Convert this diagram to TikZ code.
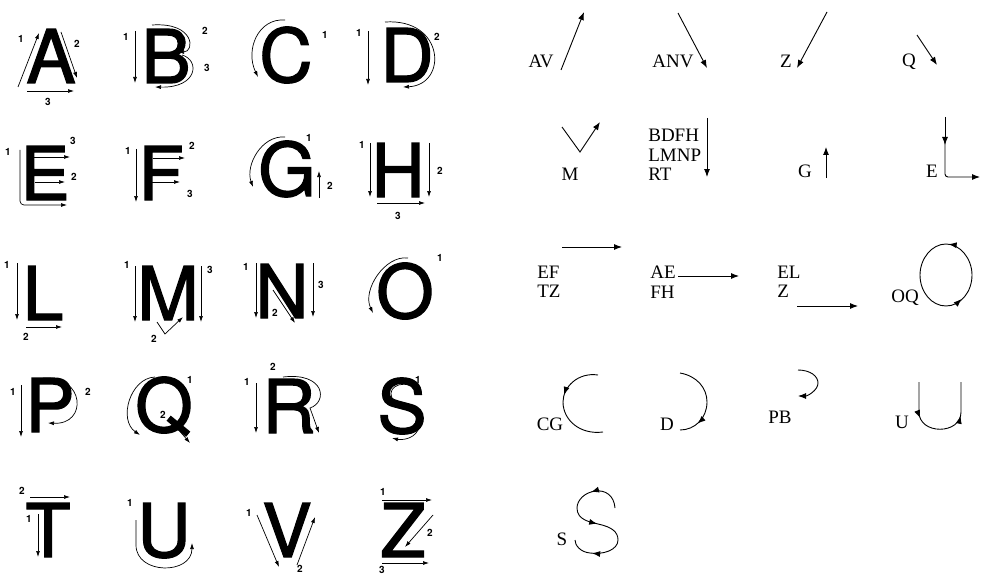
\documentclass[tikz,border=0pt]{standalone}
\usepackage{fontspec}
\setmainfont{Liberation Serif}
\newfontfamily\heros{TeX Gyre Heros}
\newfontfamily\heromed[RawFeature={embolden=1.6}]{TeX Gyre Heros}
\usetikzlibrary{arrows.meta}
\usetikzlibrary{decorations.markings}
\newcommand{\tip}{\arrow{Latex[length=8pt, width=6pt]}}

\begin{document}
\begin{tikzpicture}[x=1pt, y=-1pt, line width=0.7pt,
  >={Latex[length=6pt, width=4pt]},
  glyph/.style={font=\heromed\fontsize{74}{74}\selectfont,
    anchor=base, inner sep=0pt},
  stepno/.style={font=\heros\bfseries\fontsize{10}{10}\selectfont,
    inner sep=0pt},
  grp/.style={font=\fontsize{19}{19.5}\selectfont, inner sep=0pt,
    align=left},
  bigarrow/.style={line width=0.9pt, >={Latex[length=8pt, width=6pt]}},
  midarrow/.style={line width=0.9pt, postaction={decorate},
    decoration={markings, mark=at position #1 with {\tip}}}]
  \useasboundingbox (0,0) rectangle (985,575);
  % ---------- letters, row 1 ----------
  \node[glyph] (A) at (51,83) {A};
  \draw[->] (18,87) -- (39,33);
  \draw[->] (61,32) -- (77,78);
  \draw[->] (27,91) -- (74,91);
  \node[stepno] (A1) at (21,39) {1};
  \node[stepno] (A2) at (77,44) {2};
  \node[stepno] (A3) at (48,102) {3};
  \node[glyph] (B) at (166,83) {B};
  \draw[->] (135,31) -- (135,83);
  \draw[->] (152,25) .. controls (195,22) and (195,52) .. (178,52);
  \draw[->] (182,55) .. controls (200,60) and (198,88) .. (155,87);
  \node[stepno] (B1) at (126,37) {1};
  \node[stepno] (B2) at (205,31) {2};
  \node[stepno] (B3) at (207,68) {3};
  \node[glyph] (C) at (286,82) {C};
  \draw[->] (285,20) .. controls (258,18) and (245,50) .. (258,77);
  \node[stepno] (C1) at (325,35) {1};
  \node[glyph] (D) at (407,82) {D};
  \draw[->] (368,31) -- (368,85);
  \draw[->] (385,22) .. controls (445,18) and (448,85) .. (403,87);
  \node[stepno] (D1) at (359,33) {1};
  \node[stepno] (D2) at (437,37) {2};
  % ---------- letters, row 2 ----------
  \node[glyph] (E) at (45,200) {E};
  \draw[->, rounded corners=4pt] (20,150) -- (20,205) -- (67,205);
  \draw[->] (35,182) -- (65,182);
  \draw[->] (33,157) -- (70,157);
  \node[stepno] (E1) at (8,152) {1};
  \node[stepno] (E2) at (74,177) {2};
  \node[stepno] (E3) at (73,141) {3};
  \node[glyph] (F) at (161,200) {F};
  \draw[->] (136,149) -- (136,202);
  \draw[->] (153,158) -- (185,158);
  \draw[->] (152,182) -- (180,182);
  \node[stepno] (F1) at (128,151) {1};
  \node[stepno] (F2) at (192,146) {2};
  \node[stepno] (F3) at (190,194) {3};
  \node[glyph] (G) at (287,196) {G};
  \draw[->] (285,137) .. controls (262,135) and (245,165) .. (253,187);
  \draw[->] (319,198) -- (319,171);
  \node[stepno] (G1) at (309,138) {1};
  \node[stepno] (G2) at (330,186) {2};
  \node[glyph] (H) at (398,197) {H};
  \draw[->] (370,143) -- (370,197);
  \draw[->] (429,143) -- (429,197);
  \draw[->] (377,203) -- (425,203);
  \node[stepno] (H1) at (362,145) {1};
  \node[stepno] (H2) at (440,171) {2};
  \node[stepno] (H3) at (398,216) {3};
  % ---------- letters, row 3 ----------
  \node[glyph] (L) at (43,320) {L};
  \draw[->] (17,263) -- (17,320);
  \draw[->] (26,327) -- (62,327);
  \node[stepno] (L1) at (7,265) {1};
  \node[stepno] (L2) at (26,337) {2};
  \node[glyph] (M) at (168,320) {M};
  \draw[->] (135,266) -- (135,322);
  \draw[->] (201,266) -- (201,322);
  \draw[->] (157,322) -- (165,334) -- (183,317);
  \node[stepno] (M1) at (127,265) {1};
  \node[stepno] (M2) at (154,339) {2};
  \node[stepno] (M3) at (210,270) {3};
  \node[glyph] (N) at (282,318) {N};
  \draw[->] (256,263) -- (256,318);
  \draw[->] (273,290) -- (295,323);
  \draw[->] (313,263) -- (313,317);
  \node[stepno] (N1) at (246,267) {1};
  \node[stepno] (N2) at (275,313) {2};
  \node[stepno] (N3) at (321,285) {3};
  \node[glyph] (O) at (405,318) {O};
  \draw[->] (408,258) .. controls (385,255) and (362,290) .. (373,313);
  \node[stepno] (O1) at (440,258) {1};
  % ---------- letters, row 4 ----------
  \node[glyph] (P) at (50,432) {P};
  \draw[->] (21,385) -- (21,437);
  \draw[->] (43,378) .. controls (85,375) and (88,425) .. (48,423);
  \node[stepno] (P1) at (13,392) {1};
  \node[stepno] (P2) at (88,392) {2};
  \node[glyph] (Q) at (164,432) {Q};
  \draw[->] (155,377) .. controls (130,378) and (118,420) .. (140,435);
  \draw[->] (170,420) -- (190,443);
  \node[stepno] (Q1) at (190,380) {1};
  \node[stepno] (Q2) at (163,415) {2};
  \node[glyph] (R) at (289,433) {R};
  \draw[->] (256,383) -- (256,433);
  \draw[->] (283,377) .. controls (325,372) and (328,402) .. (310,408)
    -- (319,433);
  \node[stepno] (R1) at (247,382) {1};
  \node[stepno] (R2) at (273,367) {2};
  \node[glyph] (S) at (402,433) {S};
  \draw[->] (415,388) .. controls (400,378) and (383,390) .. (395,402)
    .. controls (405,410) and (425,415) .. (418,430)
    .. controls (413,440) and (400,440) .. (392,438);
  \node[stepno] (S1) at (418,380) {1};
  % ---------- letters, row 5 ----------
  \node[glyph] (T) at (48,557) {T};
  \draw[->] (30,497) -- (70,497);
  \draw[->] (38,514) -- (38,557);
  \node[stepno] (T1) at (29,519) {1};
  \node[stepno] (T2) at (22,491) {2};
  \node[glyph] (U) at (164,557) {U};
  \draw[->] (136,520) -- (136,545) .. controls (136,575) and (192,575)
    .. (192,543);
  \node[stepno] (U1) at (130,503) {1};
  \node[glyph] (V) at (287,557) {V};
  \draw[->] (257,515) -- (279,567);
  \draw[->] (297,565) -- (315,517);
  \node[stepno] (V1) at (249,513) {1};
  \node[stepno] (V2) at (300,569) {2};
  \node[glyph] (Z) at (403,557) {Z};
  \draw[->] (382,500) -- (432,500);
  \draw[->] (433,515) -- (405,547);
  \draw[->] (382,563) -- (429,563);
  \node[stepno] (Z1) at (383,492) {1};
  \node[stepno] (Z2) at (430,533) {2};
  \node[stepno] (Z3) at (382,570) {3};
  % ---------- stroke groups, straight ----------
  \node[grp, anchor=base] (gAV) at (541,68) {AV};
  \draw[bigarrow, ->] (561,70) -- (584,12);
  \node[grp, anchor=base] (gANV) at (673,68) {ANV};
  \draw[bigarrow, ->] (678,13) -- (707,68);
  \node[grp, anchor=base] (gZ) at (786,68) {Z};
  \draw[bigarrow, ->] (827,12) -- (797,68);
  \node[grp, anchor=base] (gQ) at (909,67) {Q};
  \draw[bigarrow, ->] (917,35) -- (937,65);
  \node[grp, anchor=base] (gM) at (570,180) {M};
  \draw[bigarrow, ->] (562,127) -- (580,152) -- (600,122);
  \node[grp, anchor=west] (gBDFH) at (648,155) {BDFH\\LMNP\\RT};
  \draw[bigarrow, ->] (707,118) -- (707,177);
  \node[grp, anchor=base] (gG) at (805,177) {G};
  \draw[bigarrow, ->] (826,178) -- (826,147);
  \node[grp, anchor=base] (gE) at (932,177) {E};
  \draw[bigarrow, ->] (945,117) -- (945,145);
  \draw[bigarrow, ->, rounded corners=3pt] (945,140) -- (945,177)
    -- (980,177);
  \node[grp, anchor=west] (gEF) at (537,282) {EF\\TZ};
  \draw[bigarrow, ->] (562,247) -- (622,247);
  \node[grp, anchor=west] (gAE) at (650,282) {AE\\FH};
  \draw[bigarrow, ->] (678,276) -- (739,276);
  \node[grp, anchor=west] (gEL) at (777,282) {EL\\Z};
  \draw[bigarrow, ->] (797,306) -- (858,306);
  % ---------- stroke groups, curved ----------
  \node[grp, anchor=base] (gOQ) at (905,302) {OQ};
  \draw[line width=0.9pt, postaction={decorate},
    decoration={markings, mark=at position 0.985 with {\tip},
      mark=at position 0.6 with {\tip}}]
    (946,244) .. controls (931.6,244) and (920,258.9) .. (920,275)
    .. controls (920,292.1) and (931.6,306) .. (946,306)
    .. controls (960.4,306) and (972,292.1) .. (972,275)
    .. controls (972,258.9) and (960.4,244) .. cycle;
  \node[grp, anchor=base] (gCG) at (550,430) {CG};
  \draw[midarrow=0.4] (598,375) .. controls (578,372) and (563,387)
    .. (563,402) .. controls (563,420) and (580,435) .. (603,432);
  \node[grp, anchor=base] (gD) at (667,430) {D};
  \draw[midarrow=0.78] (680,373) .. controls (697,376) and (707,388)
    .. (707,402) .. controls (707,418) and (695,430) .. (680,430);
  \node[grp, anchor=base] (gPB) at (780,423) {PB};
  \draw[bigarrow, ->] (798,370) .. controls (810,370) and (818,376)
    .. (818,383) .. controls (818,390) and (808,396) .. (798,396);
  \node[grp, anchor=base] (gU) at (902,428) {U};
  \draw[line width=0.9pt, postaction={decorate},
    decoration={markings, mark=at position 0.3 with {\tip},
      mark=at position 0.72 with {\tip}}]
    (919,382) -- (919,412) .. controls (919,435) and (961,435)
    .. (961,412) -- (961,382);
  \node[grp, anchor=base] (gS) at (562,545) {S};
  \draw[line width=0.9pt, postaction={decorate},
    decoration={markings, mark=at position 0.2 with {\tip},
      mark=at position 0.5 with {\tip},
      mark=at position 0.86 with {\tip}}]
    (615,508) .. controls (614,495) and (605,490) .. (596,491)
    .. controls (585,492) and (577,500) .. (577,508)
    .. controls (577,520) and (590,522) .. (598,524)
    .. controls (612,527) and (618,532) .. (618,540)
    .. controls (618,550) and (603,555) .. (590,553)
    .. controls (580,552) and (575,545) .. (575,540);
\end{tikzpicture}
\end{document}
